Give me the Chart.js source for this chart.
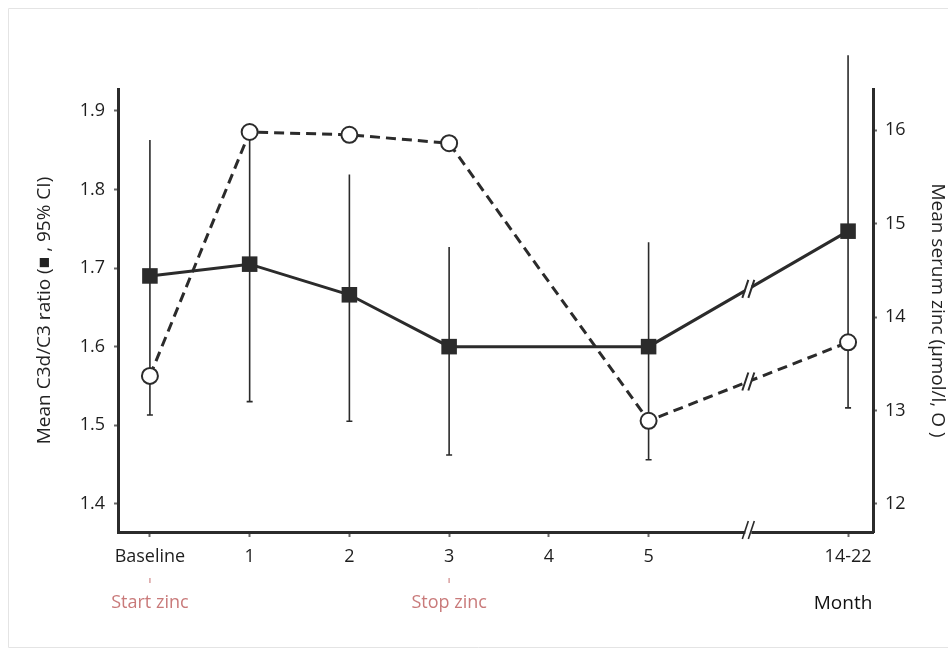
<!DOCTYPE html>
<html>
<head>
<meta charset="utf-8">
<script src="https://cdn.jsdelivr.net/npm/chart.js@4/dist/chart.umd.min.js"></script>
<style>
  html, body { margin: 0; padding: 0; background: #fff; }
  #wrap { width: 950px; height: 656px; position: relative; }
</style>
</head>
<body>
<div id="wrap"><canvas id="zincChart"></canvas></div>
<script>
// x positions (index on the month axis) and labels
const monthLabels = ['Baseline', '1', '2', '3', '4', '5', '', '14-22'];
const monthIndex = [0, 1, 2, 3, 5, 7];

// mean C3d/C3 ratio with 95% CI (left axis)
const c3Ratio = [1.69, 1.705, 1.666, 1.60, 1.60, 1.747];
const c3Low = [1.513, 1.53, 1.505, 1.462, 1.456, 1.522];
const c3High = [1.863, 1.875, 1.819, 1.727, 1.733, 1.971];

// mean serum zinc (right axis)
const zinc = [13.37, 15.98, 15.95, 15.86, 12.89, 13.73];

const leftTicks = [1.4, 1.5, 1.6, 1.7, 1.8, 1.9];
const rightTicks = [12, 13, 14, 15, 16];

const breakIndex = 6;
const FONT = "'Open Sans', 'Noto Sans', sans-serif";
const ink = '#2b2b2b';

function pts(ys) {
    return monthIndex.map((x, i) => ({ x: x, y: ys[i] }));
}

function slashes(ctx, x, y, lw) {
    ctx.save();
    ctx.fillStyle = '#fff';
    ctx.fillRect(x - 3, y - 8, 6, 16);
    ctx.strokeStyle = ink;
    ctx.lineWidth = lw;
    [-3, 3].forEach(dx => {
        ctx.beginPath();
        ctx.moveTo(x + dx - 3, y + 9);
        ctx.lineTo(x + dx + 3, y - 9);
        ctx.stroke();
    });
    ctx.restore();
}

const extras = {
    id: 'extras',
    beforeDatasetsDraw(chart) {
        const ctx = chart.ctx;
        const xs = chart.scales.x, ys = chart.scales.y;
        ctx.save();
        ctx.strokeStyle = ink;
        ctx.lineWidth = 1.6;
        monthIndex.forEach((m, i) => {
            const px = xs.getPixelForValue(m);
            const top = ys.getPixelForValue(c3High[i]);
            const bot = ys.getPixelForValue(c3Low[i]);
            ctx.beginPath();
            ctx.moveTo(px, top); ctx.lineTo(px, bot);
            ctx.moveTo(px - 3, bot); ctx.lineTo(px + 3, bot);
            ctx.stroke();
        });
        ctx.restore();
    },
    afterDatasetsDraw(chart) {
        const ctx = chart.ctx;
        const xs = chart.scales.x;
        const bx = xs.getPixelForValue(breakIndex);
        // breaks on both lines, halfway between month 5 and 14-22
        chart.data.datasets.forEach((ds, di) => {
            const meta = chart.getDatasetMeta(di);
            const a = meta.data[4], b = meta.data[5];
            const y = a.y + (b.y - a.y) * (bx - a.x) / (b.x - a.x);
            slashes(ctx, bx, y, 2);
        });
        // break on the month axis
        slashes(ctx, bx, chart.chartArea.bottom - 2, 1.6);

        ctx.save();
        ctx.font = '18px ' + FONT;
        ctx.textAlign = 'center';
        ctx.textBaseline = 'middle';
        ctx.fillStyle = '#c97a7a';
        ctx.strokeStyle = '#d9a0a0';
        ctx.lineWidth = 1.5;
        [[0, 'Start zinc'], [3, 'Stop zinc']].forEach(([m, t]) => {
            const px = xs.getPixelForValue(m);
            ctx.beginPath(); ctx.moveTo(px, 578); ctx.lineTo(px, 583); ctx.stroke();
            ctx.fillText(t, px, 603);
        });
        ctx.fillStyle = '#111';
        ctx.font = '19px ' + FONT;
        ctx.fillText('Month', xs.getPixelForValue(7) - 5, 604);
        // faint frame lines at the left, top and bottom of the figure
        ctx.strokeStyle = '#e4e4e4';
        ctx.lineWidth = 1;
        ctx.beginPath();
        ctx.moveTo(948, 8.5); ctx.lineTo(8.5, 8.5); ctx.lineTo(8.5, 647.5); ctx.lineTo(948, 647.5);
        ctx.stroke();
        ctx.restore();
    }
};

new Chart(document.getElementById('zincChart'), {
    type: 'line',
    data: {
        datasets: [{
            label: 'C3d/C3',
            data: pts(c3Ratio),
            yAxisID: 'y',
            borderColor: ink,
            backgroundColor: ink,
            borderWidth: 3,
            pointStyle: 'rect',
            pointRadius: 11,
            pointBorderWidth: 0
        }, {
            label: 'Zinc',
            data: pts(zinc),
            yAxisID: 'y2',
            borderColor: ink,
            backgroundColor: '#fff',
            borderWidth: 3,
            borderDash: [10, 6],
            pointStyle: 'circle',
            pointRadius: 8,
            pointBorderWidth: 2
        }]
    },
    options: {
        responsive: true,
        maintainAspectRatio: false,
        animation: false,
        layout: { padding: { top: 89, left: 0, right: 0, bottom: 0 } },
        plugins: {
            legend: { display: false },
            tooltip: { enabled: false }
        },
        scales: {
            x: {
                type: 'linear',
                position: 'bottom',
                min: -0.32,
                max: 7.25,
                afterBuildTicks: s => { s.ticks = monthLabels.map((_, i) => ({ value: i })); },
                afterFit: s => { s.height = 124; },
                ticks: {
                    callback: v => monthLabels[v],
                    color: '#1e1e1e',
                    font: { family: FONT, size: 18 },
                    padding: 9,
                    maxRotation: 0,
                    autoSkip: false
                },
                grid: { drawOnChartArea: false, tickLength: 5, tickWidth: 2, tickColor: '#666' },
                border: { color: ink, width: 3 }
            },
            y: {
                position: 'left',
                min: 1.364,
                max: 1.928,
                afterBuildTicks: s => { s.ticks = leftTicks.map(v => ({ value: v })); },
                afterFit: s => { s.width = 118; },
                ticks: {
                    callback: v => v.toFixed(1),
                    color: '#1e1e1e',
                    font: { family: FONT, size: 18 },
                    padding: 9
                },
                grid: { drawOnChartArea: false, tickLength: 4, tickWidth: 2, tickColor: '#666' },
                border: { color: ink, width: 3 },
                title: {
                    display: true,
                    text: 'Mean C3d/C3 ratio (■ , 95% CI)',
                    color: '#222',
                    font: { family: FONT, size: 19 },
                    padding: { top: 33, bottom: 0 }
                }
            },
            y2: {
                position: 'right',
                min: 11.70,
                max: 16.44,
                afterBuildTicks: s => { s.ticks = rightTicks.map(v => ({ value: v })); },
                afterFit: s => { s.width = 77; },
                ticks: {
                    color: '#1e1e1e',
                    font: { family: FONT, size: 18 },
                    padding: 8
                },
                grid: { drawOnChartArea: false, tickLength: 4, tickWidth: 2, tickColor: '#666' },
                border: { color: ink, width: 3 },
                title: {
                    display: true,
                    text: 'Mean serum zinc (µmol/l, O )',
                    color: '#222',
                    font: { family: FONT, size: 19 },
                    padding: { top: 1, bottom: 0 }
                }
            }
        }
    },
    plugins: [extras]
});
</script>
</body>
</html>
